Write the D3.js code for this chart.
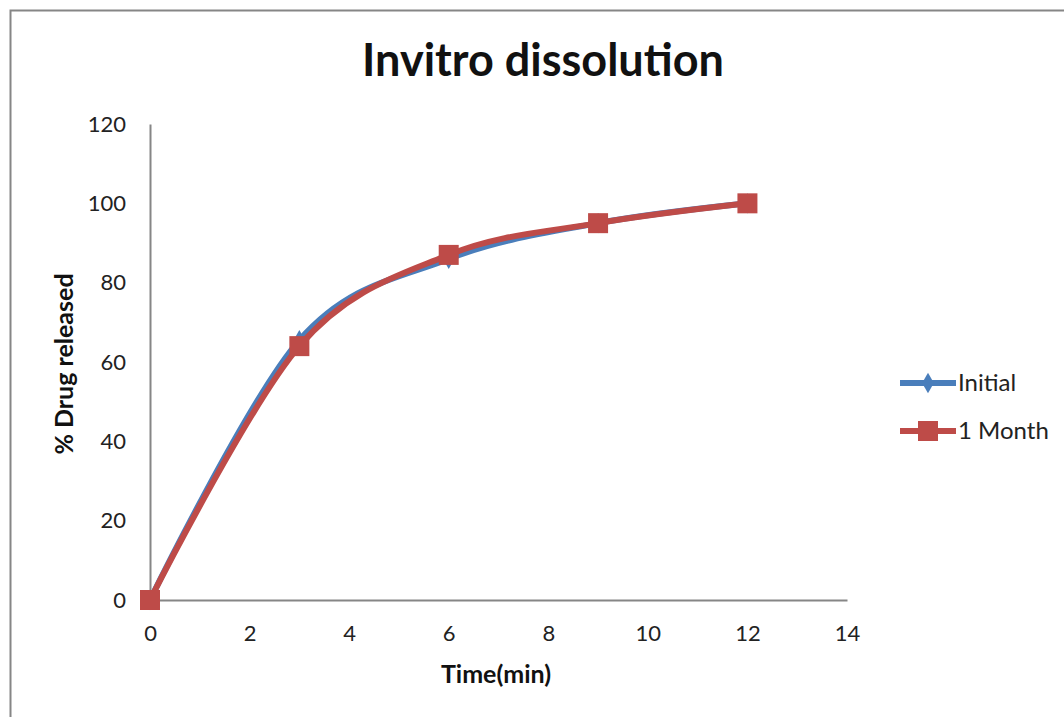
<!DOCTYPE html>
<html>
<head>
<meta charset="utf-8">
<script src="https://cdn.jsdelivr.net/npm/d3@7"></script>
<style>
  body { margin: 0; background: #fff; }
  text { font-family: Lato, "Open Sans", sans-serif; }
</style>
</head>
<body>
<div id="chart"></div>
<script>
// data
var times = [0, 3, 6, 9, 12];
var initial = [0, 65.5, 86, 95, 100];
var month1 = [0, 64, 87, 95, 100];
var xTicks = [0, 2, 4, 6, 8, 10, 12, 14];
var yTicks = [0, 20, 40, 60, 80, 100, 120];
var seriesNames = ["Initial", "1 Month"];
var seriesColors = ["#4a7ebb", "#be4b48"];

var w = 1064;
var h = 717;

var svg = d3.select("#chart")
    .append("svg")
    .attr("width", w)
    .attr("height", h);

// outer chart border
svg.append("rect")
    .attr("x", 10.5)
    .attr("y", 10.5)
    .attr("width", w + 20)
    .attr("height", h + 20)
    .attr("fill", "white")
    .attr("stroke", "#868686")
    .attr("stroke-width", 2);

var xScale = d3.scaleLinear().domain([0, 14]).range([150, 847]);
var yScale = d3.scaleLinear().domain([0, 120]).range([600, 124]);

// axes
var xAxis = d3.axisBottom(xScale).tickValues(xTicks).tickSize(0).tickPadding(25);
var yAxis = d3.axisLeft(yScale).tickValues(yTicks).tickSize(0).tickPadding(24);

var gx = svg.append("g")
    .attr("transform", "translate(0," + yScale(0) + ")")
    .call(xAxis);
var gy = svg.append("g")
    .attr("transform", "translate(" + xScale(0) + ",0)")
    .call(yAxis);

[gx, gy].forEach(function (g) {
    g.select(".domain").attr("stroke", "#868686").attr("stroke-width", 2);
    g.selectAll("text")
        .attr("fill", "#222")
        .style("font-size", "22px")
        .style("font-family", "Lato, 'Open Sans', sans-serif");
});
gx.selectAll("text").attr("dy", "0.71em");

// title
svg.append("text")
    .text("Invitro dissolution")
    .attr("x", 543)
    .attr("y", 76)
    .attr("text-anchor", "middle")
    .attr("font-weight", "bold")
    .style("font-size", "45px")
    .attr("fill", "#111");

// axis titles
svg.append("text")
    .text("Time(min)")
    .attr("x", 496)
    .attr("y", 683)
    .attr("text-anchor", "middle")
    .attr("font-weight", "bold")
    .style("font-size", "25px")
    .attr("fill", "#111");

svg.append("text")
    .text("% Drug released")
    .attr("transform", "translate(73," + 364 + ") rotate(-90)")
    .attr("text-anchor", "middle")
    .attr("font-weight", "bold")
    .style("font-size", "25px")
    .attr("fill", "#111");

// lines
var line = d3.line()
    .x(function (d) { return xScale(d[0]); })
    .y(function (d) { return yScale(d[1]); })
    .curve(d3.curveCatmullRom.alpha(0));

var allSeries = [initial, month1].map(function (vals) {
    return times.map(function (t, i) { return [t, vals[i]]; });
});

allSeries.forEach(function (pts, s) {
    svg.append("path")
        .datum(pts)
        .attr("d", line)
        .attr("fill", "none")
        .attr("stroke", seriesColors[s])
        .attr("stroke-width", 6)
        .attr("stroke-linejoin", "round");
});

// diamond markers for Initial
svg.selectAll(".diamond")
    .data(allSeries[0])
    .enter()
    .append("path")
    .attr("class", "diamond")
    .attr("d", d3.symbol().type(d3.symbolDiamond).size(120))
    .attr("transform", function (d) { return "translate(" + xScale(d[0]) + "," + yScale(d[1]) + ")"; })
    .attr("fill", seriesColors[0]);

// square markers for 1 Month
svg.selectAll(".square")
    .data(allSeries[1])
    .enter()
    .append("rect")
    .attr("class", "square")
    .attr("x", function (d) { return xScale(d[0]) - 10; })
    .attr("y", function (d) { return yScale(d[1]) - 10; })
    .attr("width", 20)
    .attr("height", 20)
    .attr("fill", seriesColors[1]);

// legend
var legendY = [383, 431];
seriesNames.forEach(function (name, i) {
    var g = svg.append("g").attr("transform", "translate(900," + legendY[i] + ")");
    g.append("line")
        .attr("x1", 0).attr("x2", 56)
        .attr("y1", 0).attr("y2", 0)
        .attr("stroke", seriesColors[i])
        .attr("stroke-width", 6);
    if (i == 0) {
        g.append("path")
            .attr("d", d3.symbol().type(d3.symbolDiamond).size(120))
            .attr("transform", "translate(28,0)")
            .attr("fill", seriesColors[i]);
    } else {
        g.append("rect")
            .attr("x", 18).attr("y", -10)
            .attr("width", 20).attr("height", 20)
            .attr("fill", seriesColors[i]);
    }
    g.append("text")
        .text(name)
        .attr("x", 58)
        .attr("y", 8)
        .style("font-size", "24px")
        .attr("fill", "#222");
});
</script>
</body>
</html>
